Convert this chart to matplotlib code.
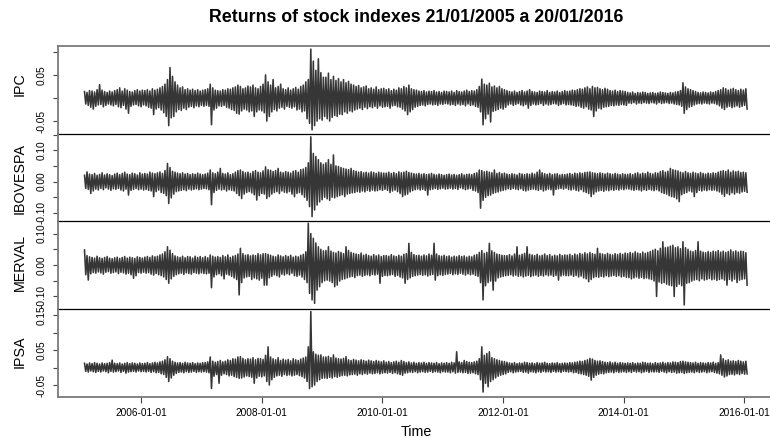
import numpy as np
import matplotlib
matplotlib.use("Agg")
import matplotlib.pyplot as plt
import matplotlib.dates as mdates
from datetime import date

plt.rcParams['font.family'] = ['Liberation Sans', 'DejaVu Sans']

title = "Returns of stock indexes 21/01/2005 a 20/01/2016"
series_names = ["IPC", "IBOVESPA", "MERVAL", "IPSA"]
start_day = date(2005, 1, 21)
end_day = date(2016, 1, 20)
tick_years = [2006, 2008, 2010, 2012, 2014, 2016]
tick_labels = ["2006-01-01", "2008-01-01", "2010-01-01", "2012-01-01", "2014-01-01", "2016-01-01"]

# Half-month high / low of daily returns, in units of 0.001
ipc_high = [14,12,16,15,13,18,29,17,14,12,15,13,16,18,22,15,20,17,14,13,16,18,15,17,
            16,18,15,20,17,19,22,25,30,40,66,47,35,28,22,24,18,20,17,19,16,18,15,17,
            18,20,30,22,17,16,15,18,17,20,19,22,24,28,25,20,22,26,24,28,22,20,25,30,
            50,35,28,40,22,25,30,20,18,22,17,20,23,19,25,28,35,40,106,80,60,85,55,45,
            45,54,40,47,38,42,35,40,33,36,30,28,25,27,22,24,26,20,22,19,24,18,20,21,
            18,20,16,19,17,22,20,25,22,28,20,18,17,15,14,16,13,15,14,16,13,14,12,15,
            14,13,15,12,16,14,13,15,17,14,16,15,18,25,41,30,28,32,24,26,22,25,20,18,
            16,14,13,15,12,14,16,13,15,18,14,13,12,15,14,13,16,12,14,13,15,12,14,16,
            14,15,17,16,18,20,19,22,24,20,25,22,23,20,18,21,19,16,15,17,14,16,15,14,
            12,11,13,10,12,11,13,12,10,11,12,10,11,13,12,11,10,12,11,13,14,16,33,24,
            20,18,16,14,12,11,13,12,11,13,12,14,16,18,22,20,17,19,21,18,16,19,17,20]
ipc_low = [-13,-16,-20,-24,-18,-15,-14,-19,-16,-13,-15,-17,-14,-19,-21,-16,-24,-33,-18,-15,-14,-17,-19,-15,
           -17,-20,-22,-36,-24,-21,-26,-32,-40,-60,-43,-40,-30,-25,-27,-22,-25,-20,-18,-21,-17,-19,-16,-18,
           -16,-18,-58,-26,-22,-17,-18,-16,-20,-22,-25,-27,-33,-35,-28,-24,-26,-30,-28,-40,-30,-26,-28,-32,
           -50,-40,-30,-25,-28,-22,-20,-24,-18,-20,-22,-19,-26,-24,-30,-28,-45,-55,-69,-60,-50,-45,-48,-40,
           -45,-50,-42,-38,-40,-35,-36,-30,-33,-28,-30,-26,-24,-22,-25,-20,-23,-19,-21,-18,-22,-17,-20,-19,
           -18,-22,-17,-16,-19,-20,-24,-28,-36,-30,-25,-20,-18,-16,-15,-17,-14,-13,-15,-14,-16,-13,-14,-12,
           -13,-15,-14,-16,-13,-15,-14,-17,-13,-16,-15,-18,-20,-30,-58,-45,-35,-52,-29,-27,-25,-22,-24,-20,
           -15,-13,-16,-14,-12,-15,-17,-14,-22,-16,-13,-15,-14,-12,-16,-13,-15,-14,-12,-13,-16,-14,-12,-15,
           -14,-15,-16,-18,-17,-20,-22,-19,-24,-26,-40,-28,-22,-24,-20,-19,-18,-16,-17,-15,-16,-14,-15,-16,
           -11,-12,-10,-13,-11,-12,-10,-11,-12,-10,-11,-13,-10,-12,-11,-10,-12,-11,-13,-14,-15,-18,-33,-25,
           -20,-18,-15,-13,-12,-13,-11,-12,-13,-11,-12,-14,-17,-22,-25,-20,-18,-21,-19,-17,-20,-18,-16,-24]

ibov_high = [20,31,24,22,26,20,23,28,21,25,22,19,24,27,22,26,30,24,22,27,25,21,28,24,
             26,24,30,27,25,28,31,26,35,58,45,33,30,27,25,28,24,26,22,25,23,27,24,22,
             24,27,37,28,25,30,42,26,24,28,22,25,30,35,37,32,28,30,26,32,35,30,28,34,
             47,38,36,32,35,42,30,28,32,30,27,33,35,30,38,40,45,60,143,90,80,70,60,55,
             60,70,55,85,50,48,45,42,40,38,42,35,33,30,32,28,30,27,31,29,26,30,28,27,
             27,30,26,29,25,31,28,30,33,29,27,25,24,26,23,25,22,24,26,23,21,24,22,20,
             22,24,21,23,20,22,25,21,23,24,22,26,28,37,35,31,33,30,28,37,26,29,25,27,
             24,22,25,23,21,26,24,22,25,23,27,24,30,37,28,25,23,26,22,24,25,21,23,22,
             24,26,23,27,25,28,26,29,30,31,28,27,25,28,26,24,27,25,23,26,24,22,25,23,
             23,25,22,26,28,24,27,25,30,26,24,28,27,32,35,30,33,42,38,36,34,30,28,32,
             28,26,30,27,25,29,26,24,27,25,28,26,30,33,35,32,37,30,34,31,33,29,30,28]
ibov_low = [-22,-25,-38,-30,-24,-27,-22,-26,-20,-24,-28,-23,-25,-22,-27,-30,-24,-43,-28,-25,-22,-26,-24,-27,
            -25,-28,-30,-48,-32,-27,-35,-38,-45,-70,-52,-40,-32,-30,-28,-26,-29,-24,-27,-25,-23,-26,-24,-22,
            -23,-26,-74,-35,-28,-24,-27,-25,-30,-26,-28,-30,-38,-45,-54,-40,-35,-32,-36,-42,-59,-45,-38,-40,
            -54,-48,-40,-35,-32,-38,-30,-34,-36,-32,-40,-48,-38,-35,-42,-50,-60,-80,-112,-91,-75,-65,-58,-50,
            -55,-60,-50,-52,-48,-45,-42,-48,-40,-38,-36,-35,-32,-34,-30,-33,-28,-31,-27,-30,-29,-26,-28,-25,
            -28,-35,-30,-27,-32,-38,-48,-43,-40,-33,-29,-26,-24,-27,-25,-28,-43,-26,-24,-22,-25,-23,-21,-24,
            -23,-21,-24,-22,-25,-20,-23,-26,-24,-22,-28,-30,-35,-85,-60,-50,-45,-43,-38,-35,-33,-30,-28,-26,
            -23,-25,-22,-24,-26,-23,-28,-30,-27,-25,-24,-26,-28,-25,-30,-27,-24,-26,-43,-25,-23,-22,-24,-21,
            -25,-27,-24,-28,-30,-26,-32,-35,-38,-48,-40,-33,-30,-28,-31,-27,-29,-26,-28,-25,-27,-24,-26,-23,
            -24,-26,-28,-25,-27,-30,-26,-28,-25,-27,-29,-26,-30,-35,-38,-40,-45,-48,-50,-55,-64,-42,-38,-35,
            -30,-33,-48,-35,-28,-30,-27,-29,-26,-28,-27,-30,-33,-40,-47,-38,-42,-36,-40,-35,-37,-33,-31,-34]

merval_high = [48,30,26,24,22,28,23,21,24,27,22,20,23,25,21,24,27,22,25,23,21,26,24,22,
               25,27,24,29,26,28,32,35,42,58,47,36,29,26,24,28,23,27,26,22,28,24,27,23,
               27,23,32,28,25,27,24,30,26,32,24,28,30,35,53,36,31,33,29,32,30,36,32,36,
               36,34,31,28,26,32,29,26,30,27,31,25,28,26,31,34,42,133,100,85,70,58,50,45,
               46,58,44,40,38,43,40,36,58,46,40,37,35,33,38,31,34,30,28,33,29,32,27,30,
               30,28,33,29,27,31,28,34,36,69,40,33,30,31,28,32,29,35,31,69,35,30,28,31,
               27,29,25,28,26,30,27,29,25,28,26,31,33,40,46,37,40,69,45,40,35,33,31,30,
               30,33,29,35,58,31,34,37,58,34,32,30,34,29,31,35,30,33,28,31,29,34,30,32,
               31,34,30,35,32,37,34,39,35,40,36,34,53,37,35,33,37,34,32,36,33,37,34,38,
               36,40,37,42,38,36,41,37,40,43,47,50,45,53,74,55,57,60,63,55,58,52,74,55,
               50,44,42,46,74,44,41,39,43,40,44,42,46,41,44,40,43,48,42,45,41,44,43,39]
merval_low = [-31,-48,-28,-24,-26,-22,-25,-29,-23,-21,-26,-24,-22,-27,-23,-25,-29,-26,-31,-42,-34,-24,-26,-23,
              -26,-24,-29,-32,-27,-31,-34,-38,-46,-58,-44,-36,-31,-28,-26,-30,-25,-27,-29,-24,-26,-28,-25,-27,
              -28,-26,-72,-38,-31,-28,-34,-44,-29,-32,-36,-41,-46,-95,-56,-41,-38,-36,-46,-41,-44,-48,-42,-64,
              -64,-41,-36,-31,-34,-38,-29,-32,-28,-31,-26,-34,-36,-32,-38,-46,-56,-90,-111,-122,-80,-69,-56,-50,
              -48,-51,-56,-69,-64,-51,-46,-44,-41,-38,-36,-40,-34,-32,-36,-33,-31,-34,-30,-32,-29,-58,-36,-33,
              -34,-32,-30,-36,-33,-38,-41,-58,-46,-41,-36,-34,-32,-30,-33,-31,-35,-32,-30,-48,-34,-31,-33,-30,
              -29,-27,-31,-28,-30,-26,-29,-32,-28,-31,-29,-33,-36,-56,-111,-66,-56,-51,-80,-51,-41,-38,-36,-34,
              -33,-31,-35,-32,-36,-34,-38,-35,-33,-37,-34,-32,-36,-33,-35,-31,-34,-32,-36,-33,-48,-35,-32,-34,
              -34,-32,-36,-33,-38,-35,-41,-44,-53,-46,-40,-37,-39,-36,-38,-34,-37,-35,-33,-36,-34,-38,-36,-39,
              -40,-44,-41,-38,-42,-39,-43,-41,-44,-46,-51,-100,-54,-58,-56,-61,-64,-66,-100,-68,-61,-66,-127,-58,
              -56,-51,-48,-46,-50,-44,-48,-46,-43,-47,-45,-49,-46,-44,-48,-64,-46,-51,-45,-56,-48,-46,-44,-64]

ipsa_high = [12,10,13,11,14,12,10,13,11,12,14,21,12,11,13,10,12,14,11,13,12,10,13,11,
             12,14,11,13,15,13,16,18,22,31,25,18,15,13,14,12,15,13,12,14,11,13,12,14,
             14,16,30,18,15,17,20,16,18,22,20,25,24,30,31,26,22,25,24,28,22,26,25,23,
             35,59,30,25,22,28,20,24,21,23,19,25,22,20,24,27,30,59,160,45,38,35,36,30,
             30,32,28,36,27,25,24,26,31,22,20,23,21,19,22,20,18,21,19,17,20,18,16,19,
             15,17,14,16,18,15,20,17,14,16,13,15,12,14,13,15,12,14,13,12,14,11,13,12,
             14,12,15,13,45,16,14,20,17,15,14,16,18,25,59,35,40,45,28,25,22,20,18,17,
             15,13,12,14,11,13,12,15,14,12,13,11,14,12,13,15,12,11,13,12,14,11,12,13,
             12,14,13,15,16,18,17,20,22,26,24,20,18,19,17,15,14,16,13,15,12,14,13,12,
             13,12,14,11,13,12,15,14,12,13,11,14,12,13,15,12,14,13,16,15,14,17,18,16,
             15,14,13,15,12,14,13,12,14,13,15,12,14,36,25,20,22,18,19,17,20,18,16,18]
ipsa_low = [-11,-13,-10,-12,-14,-11,-13,-10,-12,-15,-11,-13,-12,-10,-14,-11,-16,-13,-12,-11,-13,-10,-12,-11,
            -13,-11,-14,-12,-15,-14,-18,-20,-28,-40,-30,-22,-17,-14,-13,-15,-12,-14,-13,-11,-14,-12,-13,-12,
            -13,-15,-60,-25,-20,-45,-22,-18,-20,-24,-22,-26,-28,-31,-30,-27,-24,-26,-28,-45,-30,-25,-27,-24,
            -40,-50,-35,-28,-24,-22,-25,-20,-23,-21,-24,-22,-20,-23,-26,-30,-40,-60,-55,-50,-40,-35,-31,-30,
            -31,-28,-30,-26,-28,-25,-23,-22,-24,-21,-20,-19,-22,-18,-20,-17,-19,-16,-18,-17,-15,-18,-16,-15,
            -16,-14,-17,-15,-18,-20,-22,-16,-15,-13,-14,-12,-15,-13,-12,-14,-13,-11,-14,-12,-13,-15,-12,-13,
            -13,-15,-12,-16,-14,-13,-15,-14,-17,-16,-15,-18,-20,-35,-70,-45,-55,-40,-35,-30,-25,-22,-20,-18,
            -14,-12,-15,-13,-12,-11,-14,-13,-16,-12,-13,-15,-12,-14,-11,-13,-12,-14,-11,-13,-12,-14,-11,-12,
            -13,-12,-15,-14,-17,-18,-20,-22,-25,-36,-28,-22,-19,-17,-18,-15,-14,-13,-15,-12,-14,-13,-12,-14,
            -12,-14,-11,-13,-12,-15,-13,-11,-14,-12,-13,-12,-14,-11,-13,-15,-12,-14,-13,-16,-15,-14,-17,-15,
            -14,-13,-15,-12,-14,-13,-12,-15,-13,-12,-14,-16,-18,-22,-27,-24,-20,-19,-21,-18,-20,-17,-19,-18]

y_limits = [(-0.0774, 0.1134), (-0.125, 0.153), (-0.139, 0.141), (-0.0834, 0.168)]
y_ticks = [[-0.05, 0.0, 0.05, 0.10],
           [-0.10, -0.05, 0.0, 0.05, 0.10, 0.15],
           [-0.10, -0.05, 0.0, 0.05, 0.10],
           [-0.05, 0.0, 0.05, 0.10, 0.15]]
y_tick_labels = [["-0.05", "", "0.05", ""],
                 ["-0.10", "", "0.00", "", "0.10", ""],
                 ["-0.10", "", "0.00", "", "0.10"],
                 ["-0.05", "", "0.05", "", "0.15"]]

highs = [ipc_high, ibov_high, merval_high, ipsa_high]
lows = [ipc_low, ibov_low, merval_low, ipsa_low]

W, H = 770, 438
fig = plt.figure(figsize=(W / 100, H / 100), dpi=100)
left_px, right_px = 58.0, 773.6
edges = [45.7, 133.7, 220.7, 308.7, 396.7]
label_y = [84.0, 179.0, 262.0, 352.0]

t0 = mdates.date2num(start_day)
t1 = mdates.date2num(end_day)
span = t1 - t0
frame_col = "#7a7a7a"

for i in range(4):
    top, bot = edges[i], edges[i + 1]
    ax = fig.add_axes([left_px / W, 1 - bot / H, (right_px - left_px) / W, (bot - top) / H])
    ax.patch.set_visible(False)
    hi = np.asarray(highs[i], float) / 1000.0
    lo = np.asarray(lows[i], float) / 1000.0
    n = min(len(hi), len(lo))
    y = np.empty(2 * n)
    y[0::2] = hi[:n]
    y[1::2] = lo[:n]
    x = np.linspace(t0, t1, 2 * n)
    ax.plot(x, y, color="#363636", lw=1.15)
    ax.set_xlim(t0 - 0.04 * span, t1 + 0.04 * span)
    ax.set_ylim(*y_limits[i])
    ax.set_yticks(y_ticks[i])
    ax.set_yticklabels(y_tick_labels[i])
    ax.tick_params(axis="y", direction="out", length=3.3, width=0.8, color="#444444",
                   labelsize=7.3, pad=5.0, labelrotation=90)
    for lbl in ax.get_yticklabels():
        lbl.set_va("center")
    ax.spines["right"].set_visible(False)
    ax.spines["left"].set_color(frame_col)
    ax.spines["left"].set_linewidth(1.3)
    if i == 0:
        ax.spines["top"].set_color(frame_col)
        ax.spines["top"].set_linewidth(1.3)
    else:
        ax.spines["top"].set_visible(False)
    if i < 3:
        ax.spines["bottom"].set_color("black")
        ax.spines["bottom"].set_linewidth(0.9)
        ax.spines["bottom"].set_zorder(5)
        ax.tick_params(axis="x", bottom=False, labelbottom=False)
    else:
        ax.spines["bottom"].set_color(frame_col)
        ax.spines["bottom"].set_linewidth(1.3)
        ax.set_xticks([mdates.date2num(date(yy, 1, 1)) for yy in tick_years])
        ax.set_xticklabels(tick_labels)
        ax.tick_params(axis="x", direction="out", length=4.0, width=0.8, color="#444444",
                       labelsize=7.3, pad=4.0)
    fig.text(20 / W, 1 - label_y[i] / H, series_names[i], rotation=90, ha="center",
             va="center", fontsize=10.3)

fig.text(416 / W, 1 - 18 / H, title, fontsize=12.8, fontweight="bold", ha="center", va="center")
fig.text(416 / W, 1 - 432 / H, "Time", fontsize=10.3, ha="center", va="center")

fig.savefig("out.png", dpi=100)
